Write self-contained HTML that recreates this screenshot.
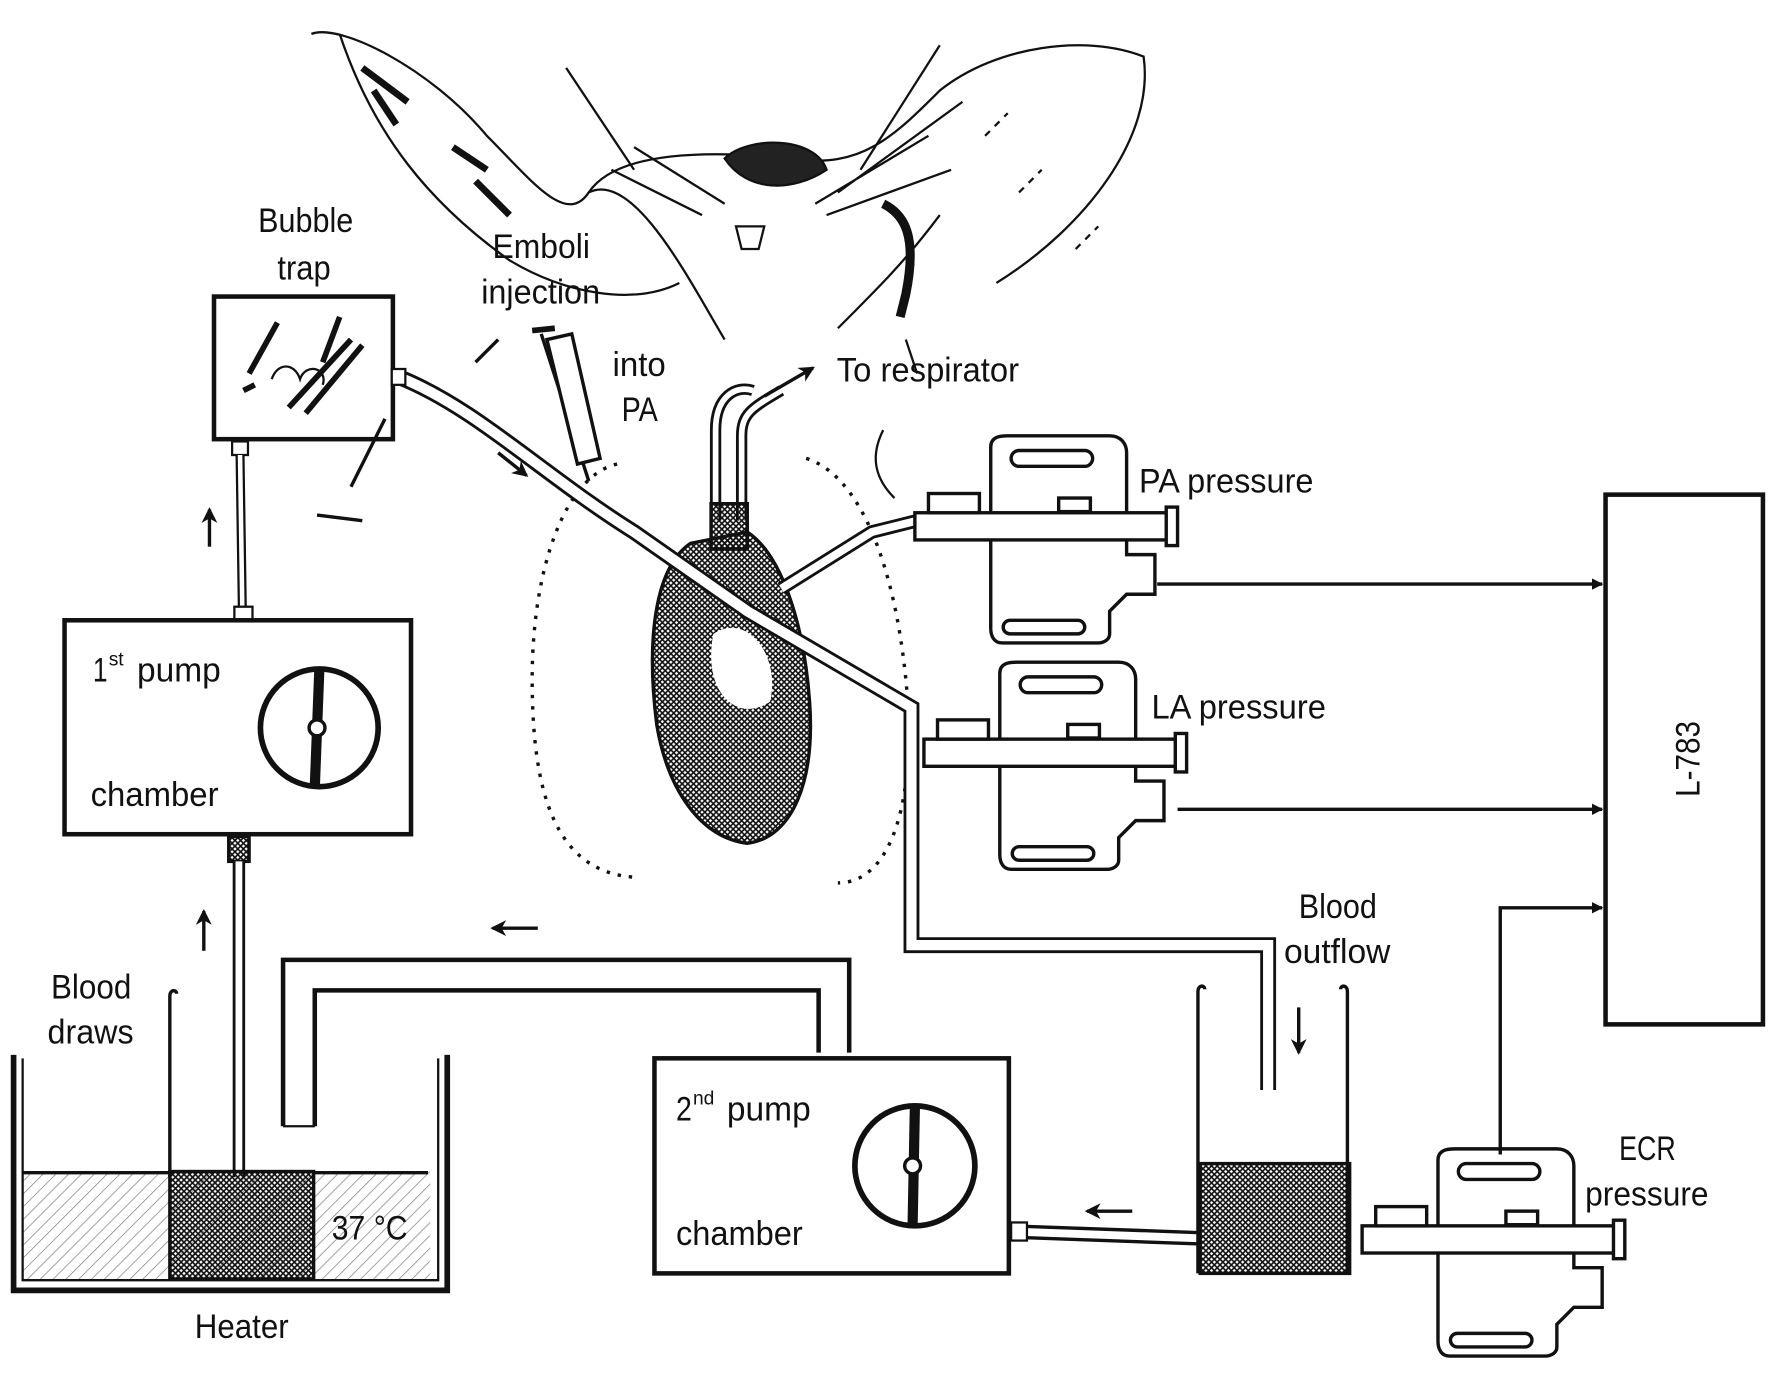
<!DOCTYPE html>
<html><head><meta charset="utf-8"><style>
html,body{margin:0;padding:0;background:#fff;}
svg{display:block;}
text{font-family:"Liberation Sans Narrow","Liberation Sans",sans-serif;fill:#111;font-size:30px;}
text.sup{font-size:17px;}
</style></head><body>
<svg width="1772" height="1373" viewBox="0 0 1565 1213" preserveAspectRatio="none" xmlns="http://www.w3.org/2000/svg">
<defs>
<pattern id="hl" width="8" height="8" patternUnits="userSpaceOnUse" patternTransform="rotate(45)"><line x1="0" y1="0" x2="0" y2="8" stroke="#777" stroke-width="1.2"/></pattern>
<pattern id="hd" width="5" height="5" patternUnits="userSpaceOnUse"><path d="M0 0L5 5M5 0L0 5" stroke="#111" stroke-width="1.4"/></pattern>
<marker id="ar" markerWidth="10" markerHeight="10" refX="9" refY="5" orient="auto" markerUnits="userSpaceOnUse"><path d="M0 0L10 5L0 10Z" fill="#111"/></marker>
<marker id="ar2" markerWidth="14" markerHeight="14" refX="12" refY="7" orient="auto" markerUnits="userSpaceOnUse"><path d="M0 0L14 7L0 14L4 7Z" fill="#111"/></marker>
</defs>
<g fill="none" stroke="#111" stroke-width="2">
<path d="M275 30 C300 20 380 60 430 120 C470 160 500 200 520 170 C540 140 600 130 700 140 C760 150 790 120 830 80 C880 40 960 30 1010 50 C1020 120 960 200 880 250"/>
<path d="M300 30 C330 120 380 180 450 230 C500 260 560 270 600 250"/>
<path d="M520 170 C560 150 610 250 640 300 M740 290 C780 250 800 230 830 190"/>
<path d="M640 140 C660 120 720 120 730 150 C700 170 660 170 640 140Z" fill="#222"/>
<path d="M650 200 L655 220 L670 220 L675 200 Z"/>
<path d="M540 150 L620 190 M560 130 L640 180 M720 180 L820 120 M740 170 L850 90 M730 190 L840 150 M500 60 L560 150 M830 40 L760 150"/>
<path d="M320 60 L360 90 M330 80 L350 110 M400 130 L430 150 M420 160 L450 190" stroke-width="6"/>
<path d="M780 180 C800 190 810 210 800 260 L795 280" stroke-width="8"/>
<path d="M870 120 L890 100 M900 170 L920 150 M950 220 L970 200" stroke-dasharray="6 6"/>
<path d="M310 430 L340 370 M280 455 L320 460 M420 320 L440 300" stroke-width="3"/>
<path d="M780 380 C770 400 770 420 790 440 M800 300 L810 330" />
<path d="M545 410 C500 420 470 500 470 600 C470 700 490 770 560 775 M712 405 C760 420 790 500 800 600 C810 700 790 780 740 780" stroke-dasharray="3 7" stroke-width="3"/>
<path d="M610 480 C580 500 570 560 580 640 C590 700 620 740 660 745 C700 740 720 690 715 620 C710 550 690 490 660 470 Z" fill="url(#hd)" stroke-width="3"/>
<path d="M630 560 C660 540 690 580 680 620 C650 640 620 610 630 560Z" fill="#fff" stroke="none"/>
<path d="M632 460 L632 380 C632 350 650 340 665 345" stroke-width="10"/>
<path d="M632 460 L632 380 C632 350 650 340 665 345" stroke="#fff" stroke-width="5"/>
<path d="M655 460 L655 385 C655 365 665 360 690 345" stroke-width="10"/>
<path d="M655 460 L655 385 C655 365 665 360 690 345" stroke="#fff" stroke-width="5"/>
<path d="M675 350 L718 325" marker-end="url(#ar2)" stroke-width="3"/>
<rect x="628" y="445" width="32" height="40" fill="url(#hd)" stroke-width="3"/>
<path d="M478 295 L520 425" stroke-width="3"/>
<path d="M470 292 L490 290" stroke-width="5"/>
<path d="M483 300 L505 295 L530 405 L510 410 Z" fill="#fff" stroke-width="3"/>
<path d="M352 333 C420 360 480 420 560 470 L660 540 L805 625 L805 835 L1120 835 L1120 963" stroke-width="14"/>
<path d="M352 333 C420 360 480 420 560 470 L660 540 L805 625 L805 835 L1120 835 L1120 963" stroke="#fff" stroke-width="9"/>
<path d="M440 400 L465 420" marker-end="url(#ar2)" stroke-width="3"/>
<path d="M690 520 L770 470 L810 460" stroke-width="12"/><path d="M690 520 L770 470 L810 460" stroke="#fff" stroke-width="7"/>
<rect x="189" y="262" width="158" height="126" stroke-width="4"/>
<path d="M220 330 L245 285 M285 320 L300 280 M255 360 L310 300 M270 365 L320 305 M215 345 L225 340" stroke-width="5"/>
<path d="M240 335 c5 -15 20 -15 25 0 c5 -15 25 -10 20 5" stroke-width="2"/>
<rect x="346" y="326" width="12" height="14" stroke-width="2" fill="#fff"/>
<rect x="205" y="390" width="14" height="12" stroke-width="2" fill="#fff"/>
<path d="M212 402 L214 538" stroke-width="8"/><path d="M212 402 L214 538" stroke="#fff" stroke-width="4"/>
<rect x="207" y="536" width="16" height="12" stroke-width="2" fill="#fff"/>
<path d="M185 483 L185 450" marker-end="url(#ar2)" stroke-width="3"/>
<rect x="57" y="548" width="306" height="189" stroke-width="4"/>
<circle cx="282" cy="643" r="52" stroke-width="5"/>
<path d="M282 592 L278 696" stroke-width="9"/>
<circle cx="280" cy="643" r="7" fill="#fff" stroke-width="3"/>
<rect x="202" y="739" width="18" height="22" fill="url(#hd)" stroke-width="3"/>
<path d="M211 761 L211 1040" stroke-width="11"/><path d="M211 761 L211 1040" stroke="#fff" stroke-width="6"/>
<path d="M180 840 L180 805" marker-end="url(#ar2)" stroke-width="3"/>
<rect x="20" y="1035" width="360" height="95" fill="url(#hl)" stroke="none"/>
<rect x="150" y="1035" width="127" height="95" fill="url(#hd)" stroke-width="3"/>
<path d="M20 1036 L150 1036 M277 1036 L378 1036" stroke-width="3"/>
<path d="M12 932 L12 1140 L395 1140 L395 932" stroke-width="5"/>
<path d="M20 935 L20 1131 L387 1131 L387 935" stroke-width="2"/>
<path d="M150 1040 L150 880 C150 874 156 874 156 878" stroke-width="3"/>
<path d="M250 995 L250 848 L750 848 L750 930 M278 995 L278 875 L723 875 L723 930" stroke-width="4"/>
<path d="M250 995 L278 995" stroke-width="2"/>
<path d="M475 820 L435 820" marker-end="url(#ar2)" stroke-width="3"/>
<rect x="578" y="935" width="313" height="190" stroke-width="4"/>
<circle cx="808" cy="1030" r="53" stroke-width="5"/>
<path d="M808 978 L806 1082" stroke-width="9"/>
<circle cx="806" cy="1030" r="7" fill="#fff" stroke-width="3"/>
<path d="M893 1083 L1060 1089 M893 1093 L1060 1099" stroke-width="3"/>
<rect x="893" y="1080" width="14" height="16" stroke-width="2" fill="#fff"/>
<path d="M1000 1070 L960 1070" marker-end="url(#ar2)" stroke-width="3"/>
<rect x="1060" y="1028" width="132" height="97" fill="url(#hd)" stroke-width="3"/>
<path d="M1058 1125 L1058 876 C1058 870 1064 870 1064 874 M1190 1125 L1190 876 C1190 870 1184 870 1184 874" stroke-width="3"/>
<path d="M1147 890 L1147 930" marker-end="url(#ar2)" stroke-width="3"/>
<g id="tr" stroke-width="3">
<path d="M875 395 C875 385 885 385 890 385 L980 385 C990 385 995 392 995 400 L995 490 L1020 490 L1020 525 L995 525 L980 540 L980 560 C980 565 975 568 970 568 L885 568 C878 568 875 562 875 555 Z" fill="#fff"/>
<rect x="893" y="398" width="72" height="14" rx="7"/>
<rect x="886" y="548" width="72" height="12" rx="6"/>
<rect x="808" y="453" width="228" height="24" fill="#fff"/>
<rect x="820" y="436" width="45" height="17" fill="#fff"/>
<rect x="1030" y="448" width="10" height="34" fill="#fff"/>
<rect x="935" y="440" width="28" height="12"/>
</g>
<use href="#tr" transform="translate(8,200)"/>
<use href="#tr" transform="translate(395,630)"/>
<path d="M1022 516 L1415 516" stroke-width="3" marker-end="url(#ar)"/>
<path d="M1040 715 L1415 715" stroke-width="3" marker-end="url(#ar)"/>
<path d="M1325 1020 L1325 802 L1415 802" stroke-width="3" marker-end="url(#ar)"/>
<rect x="1418" y="437" width="139" height="468" stroke-width="4"/>
</g>
<g>
<text x="228" y="205" textLength="84" lengthAdjust="spacingAndGlyphs">Bubble</text>
<text x="245" y="247" textLength="47" lengthAdjust="spacingAndGlyphs">trap</text>
<text x="435" y="228" textLength="86" lengthAdjust="spacingAndGlyphs">Emboli</text>
<text x="425" y="268" textLength="105" lengthAdjust="spacingAndGlyphs">injection</text>
<text x="541" y="332" textLength="47" lengthAdjust="spacingAndGlyphs">into</text>
<text x="549" y="372" textLength="32" lengthAdjust="spacingAndGlyphs">PA</text>
<text x="739" y="337" textLength="161" lengthAdjust="spacingAndGlyphs">To respirator</text>
<text x="1006" y="435" textLength="154" lengthAdjust="spacingAndGlyphs">PA pressure</text>
<text x="1017" y="635" textLength="154" lengthAdjust="spacingAndGlyphs">LA pressure</text>
<text x="82" y="602" textLength="13" lengthAdjust="spacingAndGlyphs">1</text>
<text class="sup" x="96" y="588">st</text>
<text x="121" y="602" textLength="74" lengthAdjust="spacingAndGlyphs">pump</text>
<text x="80" y="712" textLength="113" lengthAdjust="spacingAndGlyphs">chamber</text>
<text x="597" y="990" textLength="14" lengthAdjust="spacingAndGlyphs">2</text>
<text class="sup" x="612" y="976">nd</text>
<text x="642" y="990" textLength="74" lengthAdjust="spacingAndGlyphs">pump</text>
<text x="597" y="1100" textLength="112" lengthAdjust="spacingAndGlyphs">chamber</text>
<text x="45" y="882" textLength="71" lengthAdjust="spacingAndGlyphs">Blood</text>
<text x="42" y="922" textLength="76" lengthAdjust="spacingAndGlyphs">draws</text>
<text x="293" y="1095" textLength="67" lengthAdjust="spacingAndGlyphs">37 °C</text>
<text x="172" y="1182" textLength="83" lengthAdjust="spacingAndGlyphs">Heater</text>
<text x="1147" y="811" textLength="69" lengthAdjust="spacingAndGlyphs">Blood</text>
<text x="1134" y="851" textLength="94" lengthAdjust="spacingAndGlyphs">outflow</text>
<text x="1430" y="1025" textLength="50" lengthAdjust="spacingAndGlyphs">ECR</text>
<text x="1400" y="1065" textLength="109" lengthAdjust="spacingAndGlyphs">pressure</text>
<text x="1456" y="681" transform="rotate(-90 1490 670)" textLength="67" lengthAdjust="spacingAndGlyphs">L-783</text>
</g>
</svg>
</body></html>
